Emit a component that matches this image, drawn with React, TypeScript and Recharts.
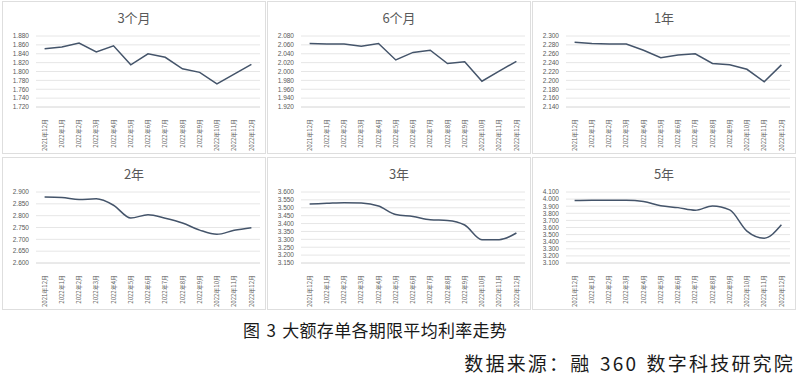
import { LineChart, Line, XAxis, YAxis, CartesianGrid } from "recharts";

const months = [
  "2021年12月", "2022年1月", "2022年2月", "2022年3月", "2022年4月", "2022年5月", "2022年6月",
  "2022年7月", "2022年8月", "2022年9月", "2022年10月", "2022年11月", "2022年12月",
];

const rate3m = [1.851, 1.855, 1.864, 1.844, 1.858, 1.815, 1.84, 1.832, 1.806, 1.798, 1.772, 1.794, 1.816];
const rate6m = [2.063, 2.062, 2.062, 2.057, 2.063, 2.026, 2.043, 2.048, 2.018, 2.022, 1.978, 2.001, 2.023];
const rate1y = [2.286, 2.283, 2.282, 2.282, 2.268, 2.251, 2.257, 2.26, 2.238, 2.235, 2.225, 2.197, 2.235];
const rate2y = [2.879, 2.877, 2.868, 2.871, 2.844, 2.79, 2.804, 2.789, 2.769, 2.739, 2.721, 2.738, 2.749];
const rate3y = [3.524, 3.528, 3.532, 3.53, 3.511, 3.457, 3.445, 3.424, 3.42, 3.391, 3.298, 3.298, 3.34];
const rate5y = [3.981, 3.985, 3.985, 3.985, 3.967, 3.907, 3.88, 3.843, 3.903, 3.848, 3.55, 3.45, 3.638];

const ticks3m = [1.72, 1.74, 1.76, 1.78, 1.8, 1.82, 1.84, 1.86, 1.88];
const ticks6m = [1.92, 1.94, 1.96, 1.98, 2.0, 2.02, 2.04, 2.06, 2.08];
const ticks1y = [2.14, 2.16, 2.18, 2.2, 2.22, 2.24, 2.26, 2.28, 2.3];
const ticks2y = [2.6, 2.65, 2.7, 2.75, 2.8, 2.85, 2.9];
const ticks3y = [3.15, 3.2, 3.25, 3.3, 3.35, 3.4, 3.45, 3.5, 3.55, 3.6];
const ticks5y = [3.1, 3.2, 3.3, 3.4, 3.5, 3.6, 3.7, 3.8, 3.9, 4.0, 4.1];

const LINE = "#44546a";
const TEXT = "#595959";

const MonthTick = (props: any) => {
  const { x, y, payload } = props;
  return (
    <text
      transform={`translate(${x},${y + 4}) rotate(-90)`}
      textAnchor="end"
      dy="0.35em"
      fontSize={6}
      fill={TEXT}
      fontFamily="'Noto Sans CJK SC', sans-serif"
    >
      {payload.value}
    </text>
  );
};

interface PanelProps {
  title: string;
  values: number[];
  ticks: number[];
  left: number;
  top: number;
  smooth?: boolean;
}

const Panel = ({ title, values, ticks, left, top, smooth }: PanelProps) => {
  const data = months.map((m, i) => ({ month: m, value: values[i] }));
  return (
    <div
      style={{
        position: "absolute",
        left,
        top,
        width: 264,
        height: 153,
        border: "1px solid #dedede",
        boxSizing: "border-box",
        background: "#fff",
      }}
    >
      <div
        style={{
          position: "absolute",
          top: 8,
          left: 0,
          width: "100%",
          textAlign: "center",
          fontSize: 13,
          color: TEXT,
          fontFamily: "'Noto Sans CJK SC', sans-serif",
          lineHeight: "16px",
        }}
      >
        {title}
      </div>
      <LineChart
        width={262}
        height={151}
        data={data}
        margin={{ top: 34, right: 5, bottom: 2, left: 0 }}
      >
        <CartesianGrid vertical={false} stroke="#e6e6e6" />
        <XAxis
          dataKey="month"
          interval={0}
          tickLine={false}
          axisLine={{ stroke: "#e0e0e0" }}
          height={44}
          tick={<MonthTick />}
          padding={{ left: 8.6, right: 8.6 }}
        />
        <YAxis
          domain={[ticks[0], ticks[ticks.length - 1]]}
          ticks={ticks}
          interval={0}
          width={33}
          tickLine={false}
          axisLine={false}
          tickSize={0}
          tickMargin={7}
          tickFormatter={(v: number) => v.toFixed(3)}
          tick={{ fontSize: 6.5, fill: TEXT, fontFamily: "'Liberation Sans', sans-serif" }}
        />
        <Line
          type={smooth ? "monotone" : "linear"}
          dataKey="value"
          stroke={LINE}
          strokeWidth={1.5}
          dot={false}
          isAnimationActive={false}
        />
      </LineChart>
    </div>
  );
};

const App = () => {
  return (
    <div
      style={{
        position: "absolute",
        left: 0,
        top: 0,
        width: 800,
        height: 381,
        background: "#fff",
        overflow: "hidden",
      }}
    >
      <Panel title="3个月" values={rate3m} ticks={ticks3m} left={2} top={1} />
      <Panel title="6个月" values={rate6m} ticks={ticks6m} left={267} top={1} />
      <Panel title="1年" values={rate1y} ticks={ticks1y} left={532} top={1} />
      <Panel title="2年" values={rate2y} ticks={ticks2y} left={2} top={157} smooth />
      <Panel title="3年" values={rate3y} ticks={ticks3y} left={267} top={157} smooth />
      <Panel title="5年" values={rate5y} ticks={ticks5y} left={532} top={157} smooth />
      <div
        style={{
          position: "absolute",
          left: 243,
          top: 320,
          fontSize: 17,
          letterSpacing: 0.3,
          wordSpacing: 2,
          color: "#1a1a1a",
          fontFamily: "'Noto Sans CJK SC', sans-serif",
          lineHeight: "20px",
          whiteSpace: "nowrap",
        }}
      >
        图 3 大额存单各期限平均利率走势
      </div>
      <div
        style={{
          position: "absolute",
          right: 5,
          top: 352,
          fontSize: 19,
          letterSpacing: 2.2,
          wordSpacing: 2,
          color: "#1a1a1a",
          fontFamily: "'Noto Sans CJK SC', sans-serif",
          lineHeight: "22px",
          whiteSpace: "nowrap",
        }}
      >
        数据来源：融 360 数字科技研究院
      </div>
    </div>
  );
};

export default App;
